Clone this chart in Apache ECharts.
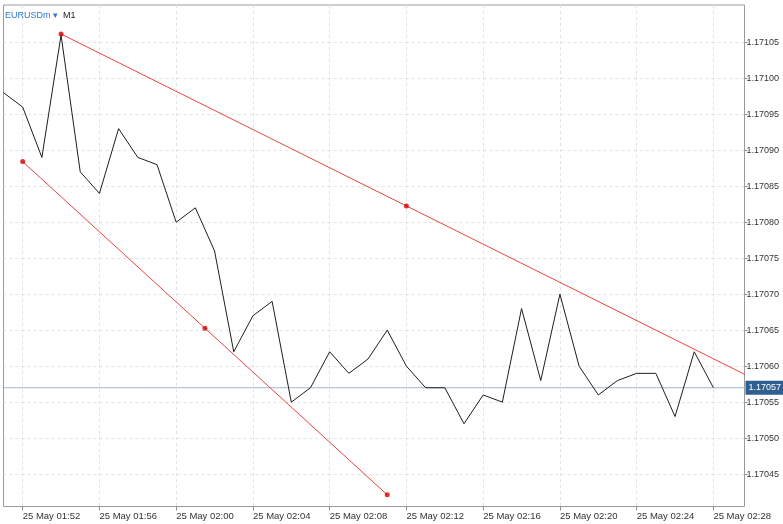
<!DOCTYPE html>
<html><head><meta charset="utf-8">
<script src="https://cdn.jsdelivr.net/npm/echarts@6/dist/echarts.min.js"></script>
<style>html,body{margin:0;padding:0;background:#fff}#c{width:783px;height:524px}</style>
</head><body><div id="c"></div>
<script>
// ---- data ----
const times = ["01:51","01:52","01:53","01:54","01:55","01:56","01:57","01:58","01:59","02:00",
  "02:01","02:02","02:03","02:04","02:05","02:06","02:07","02:08","02:09","02:10",
  "02:11","02:12","02:13","02:14","02:15","02:16","02:17","02:18","02:19","02:20",
  "02:21","02:22","02:23","02:24","02:25","02:26","02:27","02:28"];
const closes = [1.17098,1.17096,1.17089,1.17106,1.17087,1.17084,1.17093,1.17089,1.17088,1.17080,
  1.17082,1.17076,1.17062,1.17067,1.17069,1.17055,1.17057,1.17062,1.17059,1.17061,
  1.17065,1.17060,1.17057,1.17057,1.17052,1.17056,1.17055,1.17068,1.17058,1.17070,
  1.17060,1.17056,1.17058,1.17059,1.17059,1.17053,1.17062,1.17057];
const xTickTimes = ["01:52","01:56","02:00","02:04","02:08","02:12","02:16","02:20","02:24","02:28"];
const xTickLabels = ["25 May 01:52","25 May 01:56","25 May 02:00","25 May 02:04","25 May 02:08",
  "25 May 02:12","25 May 02:16","25 May 02:20","25 May 02:24","25 May 02:28"];
const yTicks = [1.17045,1.17050,1.17055,1.17060,1.17065,1.17070,1.17075,1.17080,1.17085,1.17090,1.17095,1.17100,1.17105];
const upperTrendTimes = ["01:54","02:30"];
const upperTrendPrices = [1.1710615,1.1705837];
const upperHandleTimes = ["01:54","02:12"];
const upperHandlePrices = [1.1710615,1.1708226];
const lowerTrendTimes = ["01:52","02:11"];
const lowerTrendPrices = [1.1708842,1.1704212];
const lowerHandleTimes = ["01:52","02:01:30","02:11"];
const lowerHandlePrices = [1.1708842,1.1706527,1.1704212];
const currentPrice = 1.17057;
const symbolName = "EURUSDm";
const timeframe = "M1";

// ---- helpers ----
function toMin(t){const p=t.split(':').map(Number);return p[0]*60+p[1]+(p[2]||0)/60;}
function pairs(ts,vs){return ts.map((t,i)=>[toMin(t),vs[i]]);}
const labelMap = {};
xTickTimes.forEach((t,i)=>{labelMap[toMin(t)] = xTickLabels[i];});
const X_MIN = 111, X_MAX = 149.62;

const chart = echarts.init(document.getElementById('c'));
const RED = '#e5443f', DOT = '#d40000';
const FONT = 'Liberation Sans, Arial, sans-serif';
chart.setOption({
  animation:false,
  backgroundColor:'#ffffff',
  title:{
    text:'{a|'+symbolName+' \u25BE} {b|'+timeframe+'}',
    left:5, top:7, padding:0,
    textStyle:{fontWeight:'normal',rich:{
      a:{color:'#2a78d2',fontSize:9,fontFamily:FONT,fontWeight:'normal'},
      b:{color:'#222',fontSize:9,fontFamily:FONT,fontWeight:'normal'}
    }}
  },
  grid:{left:3.5,right:38.5,top:5,bottom:17.5,show:true,borderColor:'#9a9a9a',borderWidth:1,backgroundColor:'#fff'},
  xAxis:{
    type:'value', min:X_MIN, max:X_MAX, interval:2,
    axisLine:{show:false},
    axisTick:{show:true,customValues:xTickTimes.map(toMin),length:4,lineStyle:{color:'#8a8a8a'}},
    axisLabel:{customValues:xTickTimes.map(toMin),formatter:v=>labelMap[v]||'',align:'left',
      fontSize:9.5,color:'#333',margin:5,fontFamily:FONT},
    splitLine:{show:true,lineStyle:{color:'#e2e2e2',type:[3,3],width:1}}
  },
  yAxis:{
    type:'value', position:'right', min:1.170405, max:1.1711018, interval:0.00005, scale:true,
    axisLine:{show:false},
    axisTick:{show:true,customValues:yTicks,length:3,lineStyle:{color:'#8a8a8a'}},
    axisLabel:{customValues:yTicks,formatter:v=>v.toFixed(5),fontSize:9,color:'#333',margin:2,
      fontFamily:FONT},
    splitLine:{show:true,lineStyle:{color:'#e2e2e2',type:[3,3],width:1}}
  },
  series:[
    {type:'line',data:[[X_MIN,currentPrice],[X_MAX,currentPrice]],symbol:'none',
      lineStyle:{color:'#9cb7d1',width:1},z:2,silent:true,clip:false,
      endLabel:{show:true,distance:1,formatter:()=>currentPrice.toFixed(5),
        color:'#fff',backgroundColor:'#2f5f90',padding:[3,3,2,3],fontSize:9,fontFamily:FONT}},
    {type:'line',data:pairs(times,closes),symbol:'none',lineStyle:{color:'#1e1e1e',width:1},z:3},
    {type:'line',data:pairs(upperTrendTimes,upperTrendPrices),symbol:'none',clip:true,
      lineStyle:{color:RED,width:1},z:4},
    {type:'scatter',data:pairs(upperHandleTimes,upperHandlePrices),symbolSize:5,
      itemStyle:{color:DOT},z:5},
    {type:'line',data:pairs(lowerTrendTimes,lowerTrendPrices),symbol:'none',clip:true,
      lineStyle:{color:RED,width:1},z:4},
    {type:'scatter',data:pairs(lowerHandleTimes,lowerHandlePrices),symbolSize:5,
      itemStyle:{color:DOT},z:5}
  ]
});
</script></body></html>
